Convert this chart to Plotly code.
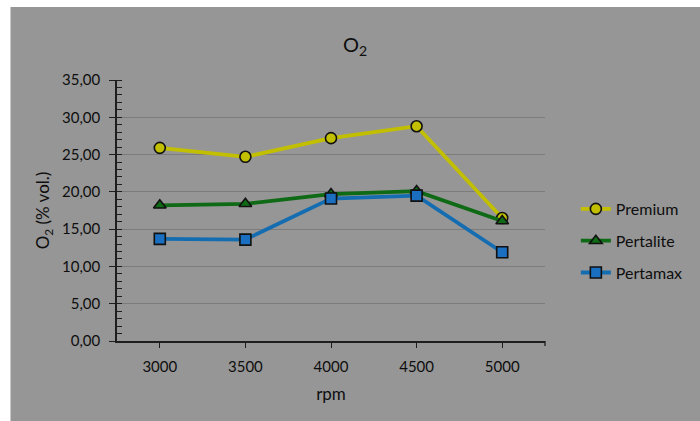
import plotly.graph_objects as go

rpm = [3000, 3500, 4000, 4500, 5000]
premium = [25.9, 24.7, 27.2, 28.8, 16.5]
pertalite = [18.2, 18.4, 19.7, 20.1, 16.1]
pertamax = [13.7, 13.6, 19.1, 19.5, 11.9]
y_ticks = [0, 5, 10, 15, 20, 25, 30, 35]
y_labels = ["0,00", "5,00", "10,00", "15,00", "20,00", "25,00", "30,00", "35,00"]

BG = "#969696"
TXT = "#0e0e0e"
FONT = "Lato"

fig = go.Figure()
series = [
    ("Premium", premium, "#c2bf00", "circle", "#c2bf00"),
    ("Pertalite", pertalite, "#0e6a14", "triangle-up", "#0e6a14"),
    ("Pertamax", pertamax, "#156db1", "square", "#1a6fc0"),
]
for name, vals, col, sym, fill in series:
    fig.add_trace(go.Scatter(
        x=rpm, y=vals, name=name, mode="lines+markers", legendgroup=name,
        line=dict(color=col, width=3.8),
        marker=dict(symbol=sym, size=11, color=fill, line=dict(color="#111111", width=1.6)),
    ))

L, R, T, B = 117, 153, 80, 80
W, H = 700, 421
pw, ph = W - L - R, H - T - B
fig.add_shape(type="rect", xref="paper", yref="paper", layer="below",
              x0=(10 - L) / pw, x1=(W + 5 - L) / pw,
              y0=(H - B - H - 5) / ph, y1=(H - B - 7) / ph,
              fillcolor=BG, line=dict(width=0))
# closing tick at the right end of the x axis
fig.add_shape(type="line", xref="paper", yref="paper", x0=1, x1=1, y0=0, y1=-5 / ph,
              line=dict(color="#1e1e1e", width=1.3))

fig.update_layout(
    width=W, height=H,
    margin=dict(l=L, r=R, t=T, b=B),
    paper_bgcolor="white", plot_bgcolor=BG,
    font=dict(family=FONT, size=15, color=TXT),
    title=dict(text="O<sub>2</sub>", x=355 / W, xanchor="center", y=1 - 45 / H, yanchor="middle",
               font=dict(family=FONT, size=20, color=TXT)),
    showlegend=True,
    legend=dict(x=(578 - L) / pw, xanchor="left", y=(H - B - 241) / ph, yanchor="middle",
                bgcolor="rgba(0,0,0,0)", font=dict(family=FONT, size=16, color=TXT),
                tracegroupgap=8),
)
fig.update_xaxes(
    range=[2750, 5250], tickvals=rpm, ticktext=[str(v) for v in rpm],
    ticks="outside", ticklen=5, tickcolor="#1e1e1e", tickwidth=1.3, ticklabelstandoff=6,
    showline=True, linecolor="#1e1e1e", linewidth=1.5, showgrid=False, zeroline=False,
    title=dict(text="rpm", font=dict(family=FONT, size=17, color=TXT), standoff=14),
    tickfont=dict(family=FONT, size=15, color=TXT),
)
fig.update_yaxes(
    range=[0, 35], tickvals=y_ticks, ticktext=y_labels,
    ticks="outside", ticklen=6, tickcolor="#1e1e1e", tickwidth=1.3, ticklabelstandoff=6,
    minor=dict(dtick=1, ticks="inside", ticklen=5, tickcolor="#1e1e1e", tickwidth=1, showgrid=False),
    showline=True, linecolor="#1e1e1e", linewidth=1.5,
    showgrid=True, gridcolor="#7c7c7c", gridwidth=1.2, zeroline=False,
    title=dict(text="O<sub>2</sub> (% vol.)", font=dict(family=FONT, size=17, color=TXT), standoff=8),
    tickfont=dict(family=FONT, size=15, color=TXT),
)

fig.write_html("out.html")
